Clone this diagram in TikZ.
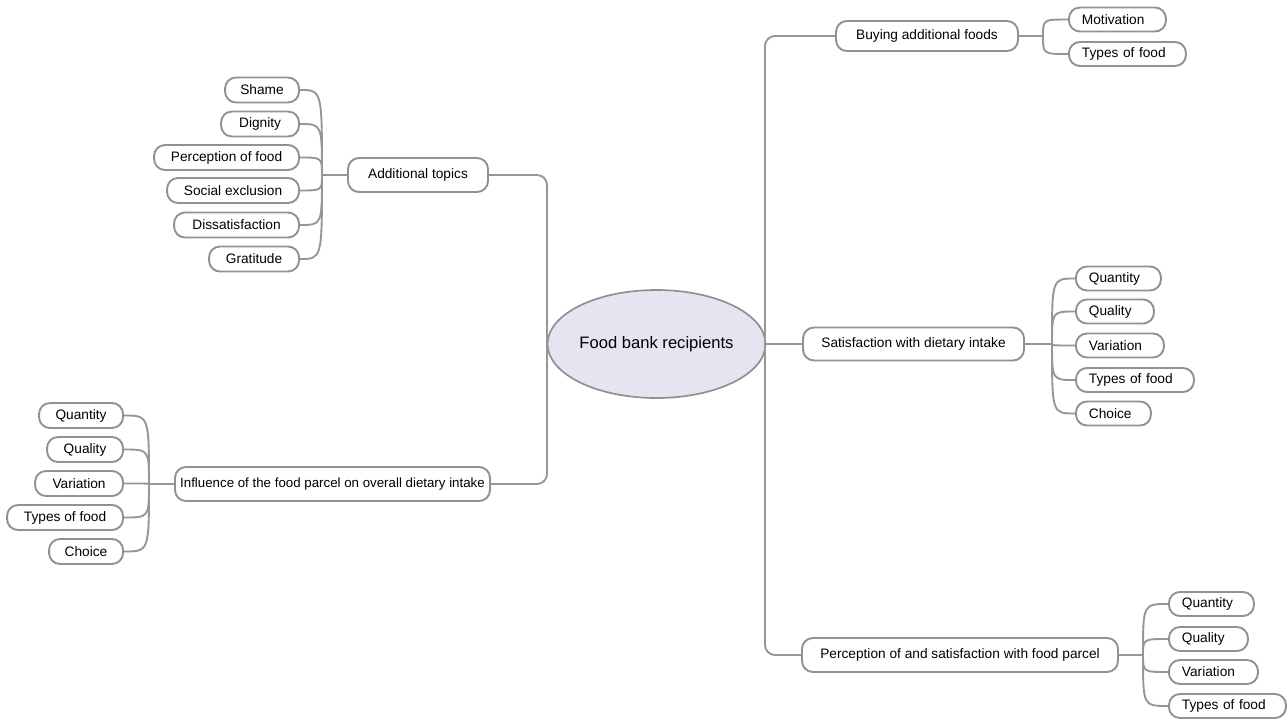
\documentclass[tikz,border=0pt]{standalone}
\usepackage{fontspec}
\setmainfont{Liberation Sans}
\usetikzlibrary{shapes.geometric}
\definecolor{edgegray}{RGB}{150,150,150}
\definecolor{boxgray}{RGB}{145,145,145}
\definecolor{rootfill}{RGB}{229,229,242}
\begin{document}
\begin{tikzpicture}[x=1pt,y=-1pt,
  conn/.style={draw=edgegray, line width=1.9pt},
  box/.style={draw=boxgray, line width=1.9pt, fill=white, rounded corners=11pt, inner xsep=0pt, inner ysep=2pt, font=\fontsize{13.7}{16}\selectfont},
  lleaf/.style={box, minimum height=25pt, anchor=east, minimum width=#1},
  rleaf/.style={box, minimum height=24pt, anchor=west, inner xsep=13pt, text width=#1, align=left},
  topic/.style={box, minimum height=34pt, minimum width=#1},
]
\useasboundingbox (0,0) rectangle (1287,718);

% root
\node[ellipse, draw=boxgray, line width=1.7pt, fill=rootfill, minimum width=207pt, minimum height=108pt, inner sep=0pt, font=\fontsize{16.6}{19}\selectfont] (root) at (656.5,344) {Food bank recipients};

% main topics
\node[topic=140pt] (addl) at (418,175) {Additional topics};
\node[topic=315pt, font=\fontsize{13.3}{15}\selectfont] (infl) at (332.5,484) {Influence of the food parcel on overall dietary intake};
\node[topic=182pt, minimum height=30pt] (buy) at (927,36) {Buying additional foods};
\node[topic=221pt, minimum height=33pt] (sat) at (913.5,344) {Satisfaction with dietary intake};
\node[topic=316pt] (perc) at (960,655) {Perception of and satisfaction with food parcel};

% trunks
\coordinate (tl) at (547,344);
\coordinate (tr) at (765,344);
\draw[conn, rounded corners=10pt] (addl.east) -| (tl) |- (infl.east);
\draw[conn] (root.west) -- (tl);
\draw[conn, rounded corners=10pt] (buy.west) -| (tr) |- (perc.west);
\draw[conn] (root.east) -- (sat.west);

% additional topics leaves
\node[lleaf=74pt]  (shame)  at (300,90)    {Shame};
\node[lleaf=78pt]  (dign)   at (300,124)   {Dignity};
\node[lleaf=145pt] (pfood)  at (300,157.5) {Perception of food};
\node[lleaf=132pt] (soc)    at (300,190.5) {Social exclusion};
\node[lleaf=125pt] (dis)    at (300,225)   {Dissatisfaction};
\node[lleaf=90pt]  (grat)   at (300,259)   {Gratitude};
\coordinate (ba) at (322,175);
\draw[conn] (addl.west) -- (ba);
\foreach \n in {shame,dign,pfood,soc,dis,grat}
  \draw[conn] (ba) .. controls (ba |- \n.east) .. (\n.east);

% influence leaves
\node[lleaf=84pt]  (iq)  at (124,415.5) {Quantity};
\node[lleaf=76pt]  (iql) at (124,449.5) {Quality};
\node[lleaf=88pt]  (iv)  at (124,483.5) {Variation};
\node[lleaf=116pt] (it)  at (124,517.5) {Types of food};
\node[lleaf=74pt]  (ic)  at (124,551.5) {Choice};
\coordinate (bi) at (149,484);
\draw[conn] (infl.west) -- (bi);
\foreach \n in {iq,iql,iv,it,ic}
  \draw[conn] (bi) .. controls (bi |- \n.east) .. (\n.east);

% buying leaves
\node[rleaf=71pt] (mot) at (1068,19.5) {Motivation};
\node[rleaf=91pt] (btf) at (1068,54)   {Types of food};
\coordinate (bb) at (1043,36);
\draw[conn] (buy.east) -- (bb);
\foreach \n in {mot,btf}
  \draw[conn] (bb) .. controls (bb |- \n.west) .. (\n.west);

% satisfaction leaves
\node[rleaf=59pt] (sq)  at (1075,278.5) {Quantity};
\node[rleaf=52pt] (sql) at (1075,311.5) {Quality};
\node[rleaf=62pt] (sv)  at (1075,345.5) {Variation};
\node[rleaf=92pt] (st)  at (1075,380)   {Types of food};
\node[rleaf=49pt] (sc)  at (1075,413.5) {Choice};
\coordinate (bs) at (1052,344);
\draw[conn] (sat.east) -- (bs);
\foreach \n in {sq,sql,sv,st,sc}
  \draw[conn] (bs) .. controls (bs |- \n.west) .. (\n.west);

% perception leaves
\node[rleaf=59pt] (pq)  at (1168,604) {Quantity};
\node[rleaf=53pt] (pql) at (1168,639) {Quality};
\node[rleaf=63pt] (pv)  at (1168,672) {Variation};
\node[rleaf=91pt] (pt)  at (1168,706) {Types of food};
\coordinate (bp) at (1143,655);
\draw[conn] (perc.east) -- (bp);
\foreach \n in {pq,pql,pv,pt}
  \draw[conn] (bp) .. controls (bp |- \n.west) .. (\n.west);
\end{tikzpicture}
\end{document}
